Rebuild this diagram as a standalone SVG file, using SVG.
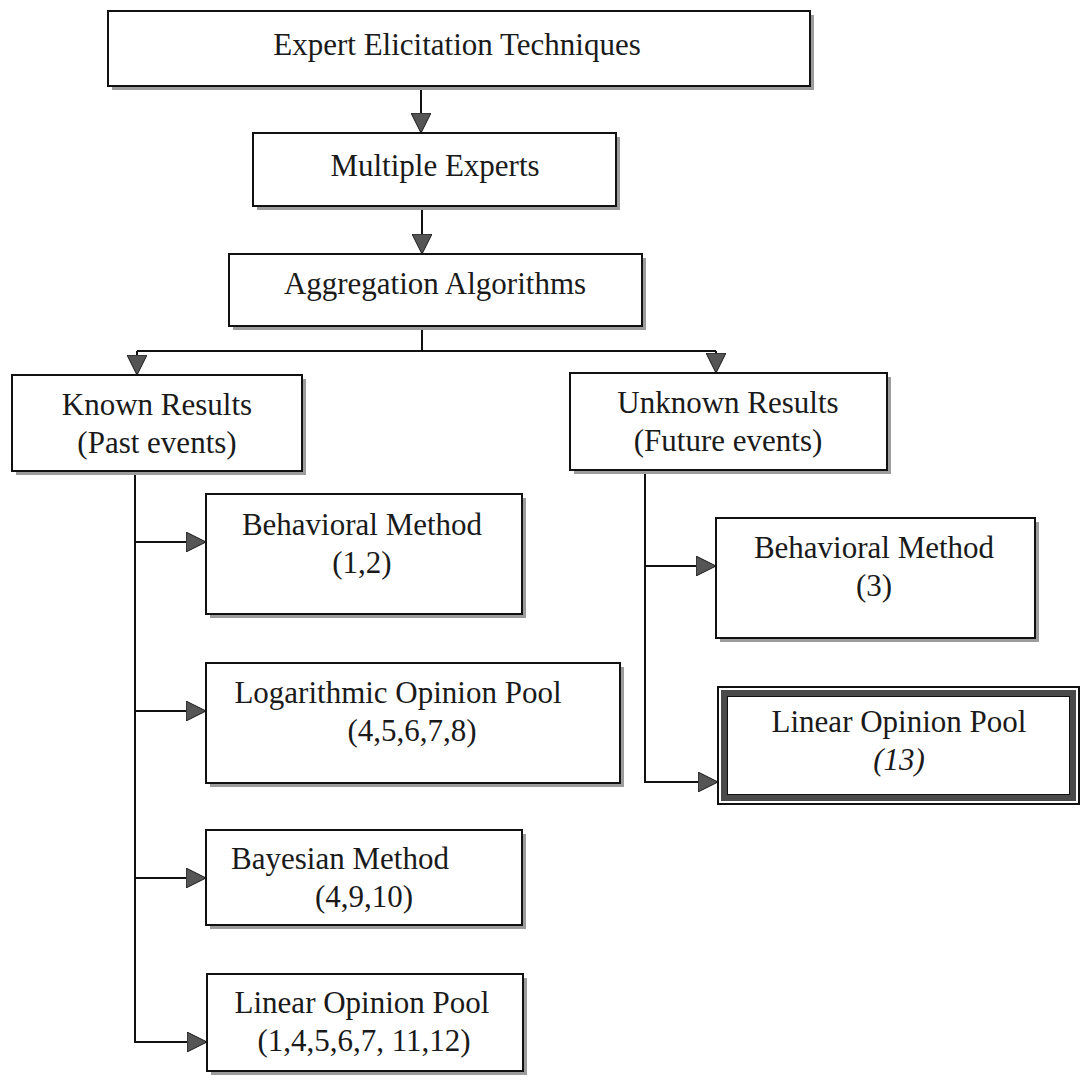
<svg xmlns="http://www.w3.org/2000/svg" width="1082" height="1082" viewBox="0 0 1082 1082">
<style>
.bg{fill:#ffffff}
.shadow{fill:#9c9c9c}
.box{fill:#ffffff;stroke:#111111;stroke-width:2}
.t{font-family:"Liberation Serif","Times New Roman",serif;font-size:31px;fill:#1a1a1a;text-anchor:middle}
.it{font-style:italic}
.conn{fill:none;stroke:#111111;stroke-width:2}
</style>
<defs>
<marker id="arr" viewBox="0 0 20 20" refX="20" refY="10" markerWidth="20" markerHeight="20" markerUnits="userSpaceOnUse" orient="auto">
<path d="M0,0 L20,10 L0,20 Z" fill="#555555" stroke="#1a1a1a" stroke-width="1"/>
</marker>
</defs>
<rect class="bg" x="0" y="0" width="1082" height="1082"/>

<g id="connectors">
<line class="conn" x1="421" y1="86" x2="421" y2="133" marker-end="url(#arr)"/>
<line class="conn" x1="422" y1="206" x2="422" y2="254" marker-end="url(#arr)"/>
<path class="conn" d="M422,326 V351"/>
<path class="conn" d="M137,351 H716"/>
<line class="conn" x1="137" y1="351" x2="137" y2="375" marker-end="url(#arr)"/>
<line class="conn" x1="716" y1="351" x2="716" y2="373" marker-end="url(#arr)"/>
<path class="conn" d="M135,471 V1042 H207" marker-end="url(#arr)"/>
<line class="conn" x1="135" y1="542" x2="206" y2="542" marker-end="url(#arr)"/>
<line class="conn" x1="135" y1="711" x2="206" y2="711" marker-end="url(#arr)"/>
<line class="conn" x1="135" y1="878" x2="206" y2="878" marker-end="url(#arr)"/>
<path class="conn" d="M645,470 V782 H718" marker-end="url(#arr)"/>
<line class="conn" x1="645" y1="566" x2="716" y2="566" marker-end="url(#arr)"/>
</g>

<g id="expert-elicitation">
<rect class="shadow" x="112" y="15" width="702" height="75"/>
<rect class="box" x="108" y="11" width="702" height="75"/>
<text class="t" x="457" y="55">Expert Elicitation Techniques</text>
</g>

<g id="multiple-experts">
<rect class="shadow" x="257" y="137" width="363" height="73"/>
<rect class="box" x="253" y="133" width="363" height="73"/>
<text class="t" x="435" y="176">Multiple Experts</text>
</g>

<g id="aggregation">
<rect class="shadow" x="233" y="258" width="413" height="72"/>
<rect class="box" x="229" y="254" width="413" height="72"/>
<text class="t" x="435" y="294">Aggregation Algorithms</text>
</g>

<g id="known-results">
<rect class="shadow" x="16" y="379" width="290" height="96"/>
<rect class="box" x="12" y="375" width="290" height="96"/>
<text class="t" x="157" y="415">Known Results</text>
<text class="t" x="157" y="453">(Past events)</text>
</g>

<g id="unknown-results">
<rect class="shadow" x="574" y="377" width="317" height="97"/>
<rect class="box" x="570" y="373" width="317" height="97"/>
<text class="t" x="728" y="413">Unknown Results</text>
<text class="t" x="728" y="451">(Future events)</text>
</g>

<g id="behavioral-known">
<rect class="shadow" x="210" y="498" width="316" height="120"/>
<rect class="box" x="206" y="494" width="316" height="120"/>
<text class="t" x="362" y="535">Behavioral Method</text>
<text class="t" x="362" y="573">(1,2)</text>
</g>

<g id="logarithmic">
<rect class="shadow" x="210" y="667" width="414" height="120"/>
<rect class="box" x="206" y="663" width="414" height="120"/>
<text class="t" x="398" y="703">Logarithmic Opinion Pool</text>
<text class="t" x="412" y="741">(4,5,6,7,8)</text>
</g>

<g id="bayesian">
<rect class="shadow" x="210" y="834" width="316" height="95"/>
<rect class="box" x="206" y="830" width="316" height="95"/>
<text class="t" x="340" y="869">Bayesian Method</text>
<text class="t" x="364" y="907">(4,9,10)</text>
</g>

<g id="linear-known">
<rect class="shadow" x="211" y="978" width="316" height="97"/>
<rect class="box" x="207" y="974" width="316" height="97"/>
<text class="t" x="362" y="1013">Linear Opinion Pool</text>
<text class="t" x="364" y="1051">(1,4,5,6,7, 11,12)</text>
</g>

<g id="behavioral-unknown">
<rect class="shadow" x="720" y="522" width="319" height="120"/>
<rect class="box" x="716" y="518" width="319" height="120"/>
<text class="t" x="874" y="558">Behavioral Method</text>
<text class="t" x="874" y="596">(3)</text>
</g>

<g id="linear-unknown">
<rect class="box" x="718" y="687" width="361" height="117"/>
<rect x="724" y="693" width="349" height="105" fill="none" stroke="#4a4a4a" stroke-width="6"/>
<rect x="727.5" y="696.5" width="342" height="98" fill="#ffffff" stroke="#111111" stroke-width="1"/>
<text class="t" x="899" y="732">Linear Opinion Pool</text>
<text class="t it" x="899" y="770">(13)</text>
</g>
</svg>
